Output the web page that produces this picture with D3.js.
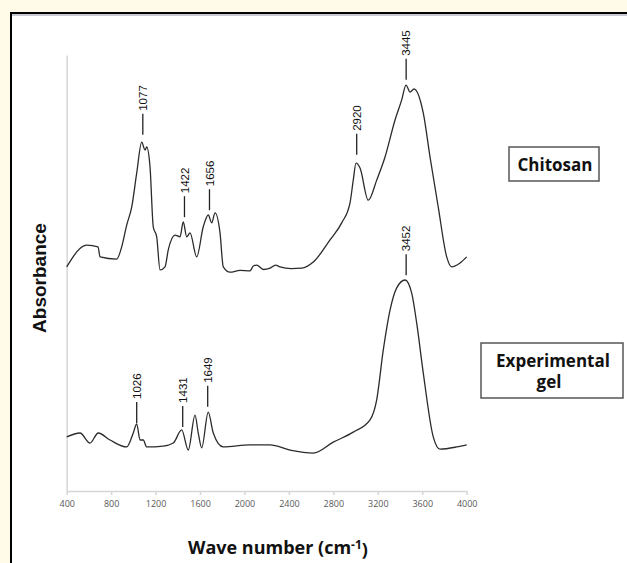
<!DOCTYPE html>
<html>
<head>
<meta charset="utf-8">
<script src="https://cdn.jsdelivr.net/npm/d3@7"></script>
<style>
  body { margin: 0; background: #fffbe8; }
  svg { display: block; }
</style>
</head>
<body>
<svg width="627" height="563"></svg>
<script>
// FTIR spectra, relative absorbance (arbitrary units) vs wave number
var chitosanWave = [400, 580, 682, 700, 850, 895, 940, 985, 1030, 1075, 1105, 1120, 1150, 1179, 1210, 1240, 1285, 1314, 1375, 1420, 1449, 1480, 1510, 1570, 1629, 1674, 1705, 1735, 1780, 1809, 1870, 1960, 2050, 2080, 2110, 2170, 2230, 2280, 2320, 2420, 2515, 2619, 2770, 2875, 2950, 2979, 3004, 3040, 3114, 3190, 3265, 3355, 3415, 3454, 3490, 3526, 3609, 3670, 3744, 3820, 3865, 3940, 4000];
var chitosanAbs = [51.4, 56.4, 56.0, 53.7, 53.2, 56.0, 61.0, 65.1, 72.9, 80.0, 78.2, 78.9, 74.3, 60.6, 58.3, 50.7, 51.4, 55.3, 58.7, 58.3, 61.7, 58.3, 59.2, 53.7, 60.6, 63.3, 61.5, 63.8, 59.2, 51.4, 50.2, 50.6, 50.5, 51.6, 51.8, 50.8, 51.1, 51.8, 51.4, 51.0, 51.1, 52.5, 57.6, 61.5, 66.1, 71.3, 75.2, 74.1, 66.7, 71.3, 76.6, 85.1, 89.7, 93.1, 91.5, 92.2, 86.7, 76.6, 65.1, 53.7, 51.4, 52.3, 53.7];

var gelWave = [400, 520, 610, 684, 790, 940, 999, 1030, 1060, 1089, 1120, 1269, 1359, 1435, 1494, 1555, 1584, 1615, 1674, 1719, 1809, 2050, 2230, 2410, 2619, 2799, 2979, 3130, 3190, 3249, 3310, 3370, 3445, 3505, 3550, 3609, 3699, 3760, 3910, 4000];
var gelAbs = [12.4, 13.3, 11.0, 13.3, 11.7, 10.1, 13.3, 15.4, 11.7, 11.7, 10.1, 10.3, 11.0, 14.0, 9.4, 17.4, 13.3, 9.9, 18.1, 13.3, 10.1, 10.6, 10.6, 9.4, 8.7, 11.2, 13.5, 16.3, 20.9, 32.3, 41.5, 46.6, 48.4, 45.4, 38.5, 27.1, 12.4, 9.6, 10.1, 10.6];

// peak annotations: text, where the marker sits on the wave axis, level of its foot
var chitosanPeakText = ["1077", "1422", "1656", "2920", "3445"];
var chitosanPeakWave = [1085, 1460, 1685, 3010, 3455];
var chitosanPeakAbs = [81.7, 62.8, 64.4, 77.1, 94.3];

var gelPeakText = ["1026", "1431", "1649", "3452"];
var gelPeakWave = [1030, 1444, 1669, 3455];
var gelPeakAbs = [15.6, 14.7, 19.3, 49.5];

var waveTicks = [400, 800, 1200, 1600, 2000, 2400, 2800, 3200, 3600, 4000];

var svg = d3.select("svg");

// white page with the dark frame at top and left
svg.append("rect").attr("x", 11).attr("y", 13).attr("width", 616).attr("height", 550).attr("fill", "#fff");
svg.append("line").attr("x1", 11).attr("x2", 627).attr("y1", 15).attr("y2", 15).attr("stroke", "#c8c8d0").attr("stroke-width", 2);
svg.append("line").attr("x1", 10).attr("x2", 627).attr("y1", 13).attr("y2", 13).attr("stroke", "#000").attr("stroke-width", 2);
svg.append("line").attr("x1", 11).attr("x2", 11).attr("y1", 12).attr("y2", 563).attr("stroke", "#000").attr("stroke-width", 2);

var x = d3.scaleLinear().domain([400, 4000]).range([66.7, 466.7]);
var y = d3.scaleLinear().domain([0, 100]).range([491, 55]);

// axes
var xAxis = svg.append("g")
  .attr("transform", "translate(0," + y(0) + ")")
  .call(d3.axisBottom(x).tickValues(waveTicks).tickFormat(d3.format("d")).tickSize(4).tickSizeOuter(0).tickPadding(6));
xAxis.select(".domain").attr("stroke", "#d6d6d6").attr("stroke-width", 1.5);
xAxis.selectAll(".tick line").attr("stroke", "#d6d6d6").attr("stroke-width", 1.5);
xAxis.selectAll(".tick text")
  .attr("fill", "#595959")
  .style("font-family", "'Open Sans', sans-serif")
  .style("font-size", "9px");

var yAxis = svg.append("g")
  .attr("transform", "translate(" + x(400) + ",0)")
  .call(d3.axisLeft(y).tickValues([]).tickSizeOuter(0));
yAxis.select(".domain").attr("stroke", "#d6d6d6").attr("stroke-width", 1.5);

// spectra
var line = d3.line()
  .x(function(d) { return x(d[0]); })
  .y(function(d) { return y(d[1]); })
  .curve(d3.curveMonotoneX);

var chitosan = d3.zip(chitosanWave, chitosanAbs);
var gel = d3.zip(gelWave, gelAbs);

[chitosan, gel].forEach(function(s) {
  svg.append("path")
    .datum(s)
    .attr("d", line)
    .attr("fill", "none")
    .attr("stroke", "#2b2b2b")
    .attr("stroke-width", 1.3);
});

// peak markers
function peaks(texts, waves, levels) {
  texts.forEach(function(t, i) {
    var px = x(waves[i]), foot = y(levels[i]), top = foot - 21;
    svg.append("line")
      .attr("x1", px).attr("x2", px)
      .attr("y1", top).attr("y2", foot)
      .attr("stroke", "#222").attr("stroke-width", 1.3);
    svg.append("text")
      .attr("transform", "translate(" + px + "," + (top - 3) + ") rotate(-90)")
      .attr("dy", "0.35em")
      .attr("fill", "#111")
      .style("font-family", "'Liberation Sans', Arial, sans-serif")
      .style("font-size", "11.5px")
      .text(t);
  });
}
peaks(chitosanPeakText, chitosanPeakWave, chitosanPeakAbs);
peaks(gelPeakText, gelPeakWave, gelPeakAbs);

// series name boxes
svg.append("rect").attr("x", 509).attr("y", 147).attr("width", 90).attr("height", 34)
  .attr("fill", "#fff").attr("stroke", "#555").attr("stroke-width", 1.5);
svg.append("text").attr("x", 555).attr("y", 171).attr("text-anchor", "middle")
  .style("font-family", "'Open Sans', sans-serif").style("font-weight", "bold").style("font-size", "17px")
  .attr("fill", "#111").text("Chitosan");

svg.append("rect").attr("x", 481).attr("y", 343).attr("width", 142).attr("height", 55)
  .attr("fill", "#fff").attr("stroke", "#555").attr("stroke-width", 1.5);
var gt = svg.append("text").attr("text-anchor", "middle")
  .style("font-family", "'Open Sans', sans-serif").style("font-weight", "bold").style("font-size", "17px")
  .attr("fill", "#111");
gt.append("tspan").attr("x", 553).attr("y", 367).text("Experimental");
gt.append("tspan").attr("x", 549).attr("y", 388).text("gel");

// axis titles
var xt = svg.append("text").attr("x", 278).attr("y", 554).attr("text-anchor", "middle")
  .style("font-family", "'Open Sans', sans-serif").style("font-weight", "bold").style("font-size", "18px")
  .attr("fill", "#111");
xt.append("tspan").text("Wave number (cm");
xt.append("tspan").attr("dy", "-0.4em").style("font-size", "12px").text("-1");
xt.append("tspan").attr("dy", "0.4em").text(")");

svg.append("text")
  .attr("transform", "translate(46,278) rotate(-90)")
  .attr("text-anchor", "middle")
  .style("font-family", "'Liberation Sans', Arial, sans-serif").style("font-weight", "bold").style("font-size", "19px")
  .attr("fill", "#111")
  .text("Absorbance");
</script>
</body>
</html>
